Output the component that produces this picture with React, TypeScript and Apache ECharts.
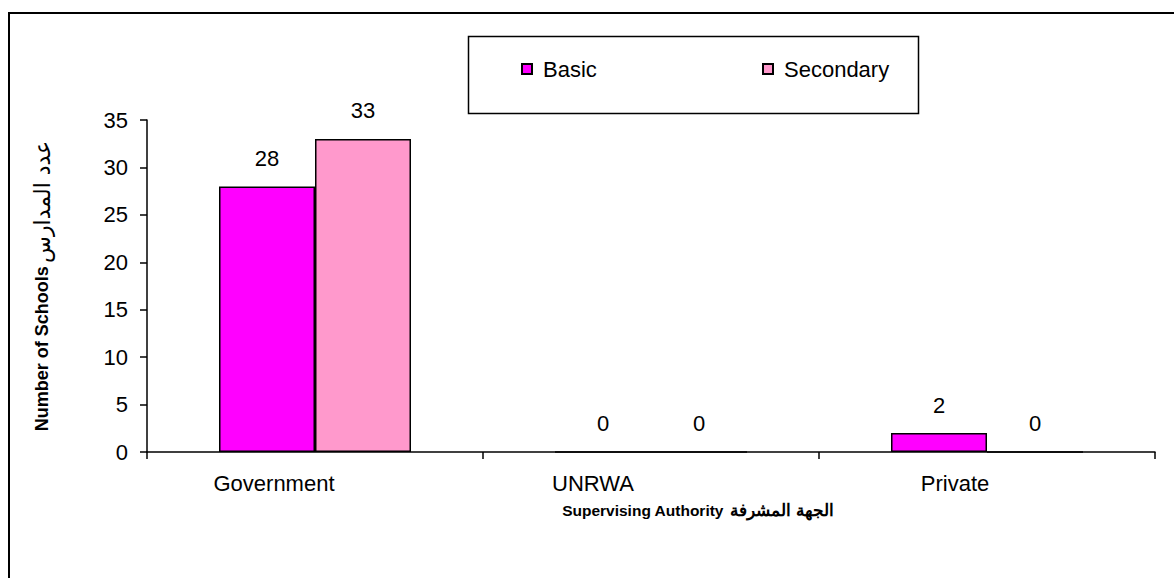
import React, { useEffect, useRef } from "react";
import * as echarts from "echarts";

const categories = ["Government", "UNRWA", "Private"];
const basicValues = [28, 0, 2];
const secondaryValues = [33, 0, 0];
const seriesNames = ["Basic", "Secondary"];
const yTicks = { min: 0, max: 35, interval: 5 };

// horizontal shift of each category label (px), as seen in the reference
const categoryLabelShift = [-41, -58, -32];

const FONT = "'Liberation Sans', Arial, sans-serif";
const FS = 22;

export default function App() {
  const ref = useRef<HTMLDivElement>(null);
  useEffect(() => {
    if (!ref.current) return;
    const chart = echarts.init(ref.current, null, { renderer: "svg" });
    const labelStyle = {
      show: true,
      position: "top" as const,
      distance: 17,
      color: "#000",
      fontSize: FS,
      fontFamily: FONT,
    };
    const legendBase = {
      top: 58,
      itemWidth: 10,
      itemHeight: 10,
      itemGap: 4,
      icon: "rect",
      textStyle: { fontSize: FS, color: "#000", fontFamily: FONT, padding: [0, 0, 0, 6] },
      padding: 0,
      z: 10,
    };
    const categoryData = categories.map((c, i) => {
      const s = categoryLabelShift[i];
      return {
        value: c,
        textStyle: { padding: s < 0 ? [0, -2 * s, 0, 0] : [0, 0, 0, 2 * s] },
      };
    });
    chart.setOption({
      animation: false,
      backgroundColor: "#fff",
      textStyle: { fontFamily: FONT },
      grid: { left: 147, right: 19, top: 120, bottom: 126, containLabel: false },
      graphic: [
        {
          type: "rect",
          shape: { x: 9, y: 13, width: 1200, height: 600 },
          style: { fill: "none", stroke: "#000", lineWidth: 2 },
          silent: true,
        },
        {
          type: "rect",
          shape: { x: 468.5, y: 36.5, width: 450, height: 77 },
          style: { fill: "#fff", stroke: "#000", lineWidth: 1.5 },
          silent: true,
          z: -1,
        },
      ],
      legend: [
        { ...legendBase, data: [seriesNames[0]], left: 521 },
        { ...legendBase, data: [seriesNames[1]], left: 762 },
      ],
      xAxis: {
        type: "category",
        data: categoryData,
        boundaryGap: true,
        axisLine: { lineStyle: { color: "#000", width: 1.5 } },
        axisTick: { show: true, inside: false, length: 7, lineStyle: { color: "#000", width: 1.5 } },
        axisLabel: { color: "#000", fontSize: FS, margin: 20, fontFamily: FONT },
        name: "{b|Supervising Authority}  {a|الجهة المشرفة}",
        nameLocation: "middle",
        nameGap: 50,
        nameTextStyle: {
          padding: [0, 0, 0, 94],
          rich: {
            b: { fontSize: 15.5, fontWeight: "bold", color: "#000", fontFamily: FONT },
            a: { fontSize: 17, fontWeight: "bold", color: "#000", fontFamily: FONT },
          },
        },
      },
      yAxis: {
        type: "value",
        min: yTicks.min,
        max: yTicks.max,
        interval: yTicks.interval,
        splitLine: { show: false },
        axisLine: { show: true, lineStyle: { color: "#000", width: 1.5 } },
        axisTick: { show: true, length: 7, lineStyle: { color: "#000", width: 1.5 } },
        axisLabel: { color: "#000", fontSize: FS, margin: 19, fontFamily: FONT },
        name: "{b|Number of Schools} {a|عدد المدارس}",
        nameLocation: "middle",
        nameGap: 94,
        nameRotate: 90,
        nameTextStyle: {
          rich: {
            b: { fontSize: 18, fontWeight: "bold", color: "#000", fontFamily: FONT },
            a: { fontSize: 22, color: "#000", fontFamily: "'DejaVu Sans', sans-serif" },
          },
        },
      },
      series: [
        {
          name: seriesNames[0],
          type: "bar",
          data: basicValues,
          barWidth: 96,
          barGap: "0%",
          itemStyle: { color: "#FF00FF", borderColor: "#000", borderWidth: 1.5 },
          label: labelStyle,
        },
        {
          name: seriesNames[1],
          type: "bar",
          data: secondaryValues,
          barWidth: 96,
          barGap: "0%",
          itemStyle: { color: "#FF99CC", borderColor: "#000", borderWidth: 1.5 },
          label: labelStyle,
        },
      ],
    });
    return () => chart.dispose();
  }, []);
  return (
    <div
      ref={ref}
      style={{ position: "absolute", left: 0, top: 0, width: 1174, height: 578 }}
    />
  );
}
